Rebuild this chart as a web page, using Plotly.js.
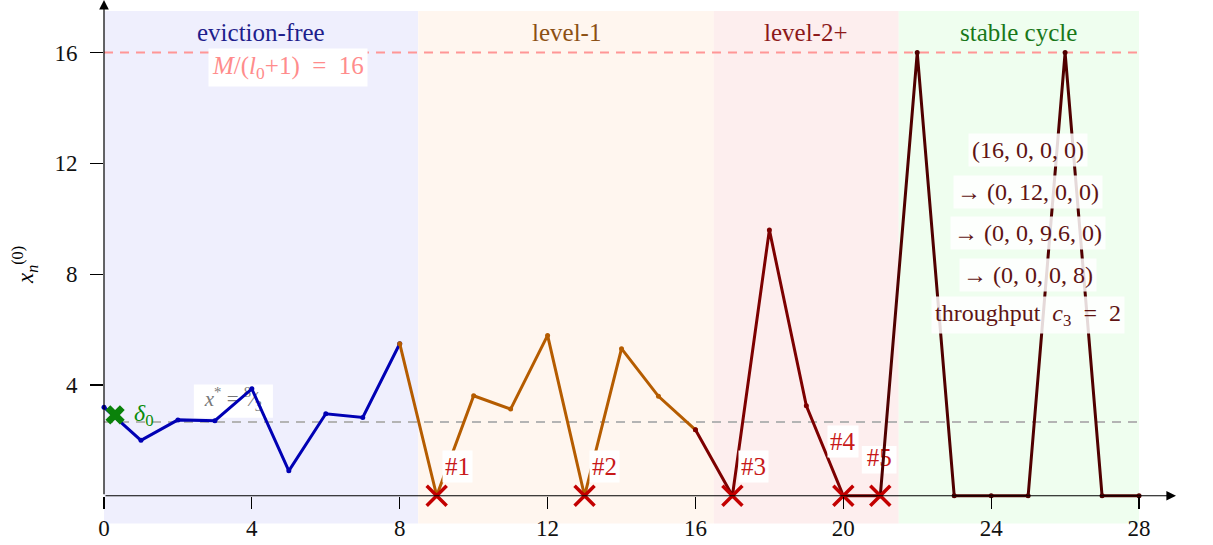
<!DOCTYPE html>
<html>
<head>
<meta charset="utf-8">
<script src="https://cdn.plot.ly/plotly-3.0.1.min.js"></script>
<style>html,body{margin:0;padding:0;background:#fff;}#chart{width:1213px;height:545px;}</style>
</head>
<body>
<div id="chart"></div>
<script>
// ---- data ----
const nEvict = [0, 1, 2, 3, 4, 5, 6, 7, 8];
const xEvict = [3.2, 2.0, 2.74, 2.71, 3.86, 0.9, 2.96, 2.83, 5.49];
const nLevel1 = [8, 9, 10, 11, 12, 13, 14, 15, 16];
const xLevel1 = [5.49, 0, 3.61, 3.13, 5.79, 0, 5.31, 3.59, 2.38];
const nLevel2 = [16, 17, 18, 19, 20, 21];
const xLevel2 = [2.38, 0, 9.6, 3.25, 0, 0];
const nStable = [21, 22, 23, 24, 25, 26, 27, 28];
const xStable = [0, 16, 0, 0, 0, 16, 0, 0];
const evictN = [9, 13, 17, 20, 21];
const evictX = [0, 0, 0, 0, 0];
const evictLabels = ['#1', '#2', '#3', '#4', '#5'];
const evictLabelX = [9.55, 13.55, 17.56, 20.0, 20.97];
const evictLabelY = [1.05, 1.05, 1.05, 1.96, 1.3];
const phaseNames = ['eviction-free', 'level-1', 'level-2+', 'stable cycle'];
const phaseStart = [0, 8.5, 16.5, 21.5];
const phaseEnd = [8.5, 16.5, 21.5, 28];
const phaseFill = ['rgb(239,239,253)', 'rgb(255,246,239)', 'rgb(253,238,238)', 'rgb(239,254,239)'];
const phaseText = ['rgb(30,30,140)', 'rgb(140,80,20)', 'rgb(140,25,25)', 'rgb(25,120,25)'];
const capValue = 16;
const fixedPoint = 8 / 3;
const delta0 = {n: 0.3, x: 2.92};
const cycleLines = ['(16, 0, 0, 0)', '→ (0, 12, 0, 0)', '→ (0, 0, 9.6, 0)', '→ (0, 0, 0, 8)', 'throughput  <i>c</i><sub>3</sub>  =  2'];
const cycleY = [12.5, 10.98, 9.5, 7.98, 6.54];
const xTicks = [0, 4, 8, 12, 16, 20, 24, 28];
const yTicks = [4, 8, 12, 16];

// ---- layout constants ----
const FONT = 'Liberation Serif, DejaVu Serif, serif';
const XR = [0, 29];
const YR = [-1.2, 17.9];
const LABEL_RED = 'rgb(200,25,25)';

function lineTrace(nx, vy, color) {
  return {x: nx, y: vy, type: 'scatter', mode: 'lines+markers',
    line: {color: color, width: 3}, marker: {color: color, size: 5},
    cliponaxis: false, hoverinfo: 'skip', showlegend: false};
}
function textTrace(tx, ty, txt, size, color) {
  return {x: [tx], y: [ty], type: 'scatter', mode: 'text', text: [txt],
    textposition: 'middle center', textfont: {family: FONT, size: size, color: color},
    cliponaxis: false, hoverinfo: 'skip', showlegend: false};
}

// labels that sit underneath the lines in the reference
const xStarPos = {n: 3.5, x: 3.42};
const lastIdx = evictLabels.length - 1;

const traces = [
  textTrace(xStarPos.n, xStarPos.x, '<i>x</i><sup>*</sup> = <sup>8</sup>⁄<sub>3</sub>', 21, 'rgb(120,120,120)'),
  lineTrace(nEvict, xEvict, 'rgb(0,0,180)'),
  lineTrace(nLevel1, xLevel1, 'rgb(181,92,0)'),
  lineTrace(nLevel2, xLevel2, 'rgb(125,0,0)'),
  textTrace(evictLabelX[lastIdx], evictLabelY[lastIdx], evictLabels[lastIdx], 25, LABEL_RED),
  lineTrace(nStable, xStable, 'rgb(80,0,0)'),
  {x: evictN, y: evictX, type: 'scatter', mode: 'markers',
   marker: {symbol: 'x-thin', size: 20, line: {color: 'rgb(195,0,0)', width: 3.5}},
   cliponaxis: false, hoverinfo: 'skip', showlegend: false},
  {x: [delta0.n], y: [delta0.x], type: 'scatter', mode: 'markers',
   marker: {symbol: 'x', size: 17, color: 'rgb(10,130,10)', line: {width: 0}},
   cliponaxis: false, hoverinfo: 'skip', showlegend: false}
];

const shapes = [];
for (let i = 0; i < phaseNames.length; i++) {
  shapes.push({type: 'rect', xref: 'x', yref: 'y', x0: phaseStart[i], x1: phaseEnd[i], y0: -1.0, y1: 17.5,
    fillcolor: phaseFill[i], line: {width: 0}, layer: 'below'});
}
shapes.push({type: 'line', xref: 'x', yref: 'y', x0: 0, x1: 28, y0: capValue, y1: capValue,
  line: {color: 'rgb(255,150,150)', width: 2, dash: '9px,7px'}, layer: 'below'});
shapes.push({type: 'line', xref: 'x', yref: 'y', x0: 0, x1: 28, y0: fixedPoint, y1: fixedPoint,
  line: {color: 'rgb(180,180,180)', width: 2, dash: '9px,7px'}, layer: 'below'});
// white label boxes beneath the lines
shapes.push({type: 'rect', xref: 'x', yref: 'y', x0: xStarPos.n - 1.07, x1: xStarPos.n + 1.07,
  y0: xStarPos.x - 0.6, y1: xStarPos.x + 0.6, fillcolor: '#fff', line: {width: 0}, layer: 'below'});
shapes.push({type: 'rect', xref: 'x', yref: 'y', x0: evictLabelX[lastIdx] - 0.47, x1: evictLabelX[lastIdx] + 0.47,
  y0: evictLabelY[lastIdx] - 0.5, y1: evictLabelY[lastIdx] + 0.5, fillcolor: '#fff', line: {width: 0}, layer: 'below'});

const annotations = [];
// axes with arrow heads
annotations.push({x: XR[1], y: 0, ax: 0, ay: 0, xref: 'x', yref: 'y', axref: 'x', ayref: 'y',
  showarrow: true, arrowhead: 2, arrowsize: 1.6, arrowwidth: 1.2, arrowcolor: '#000', text: ''});
annotations.push({x: 0, y: YR[1], ax: 0, ay: 0, xref: 'x', yref: 'y', axref: 'x', ayref: 'y',
  showarrow: true, arrowhead: 2, arrowsize: 1.6, arrowwidth: 1.2, arrowcolor: '#000', text: ''});
annotations.push({x: 29.45, y: 0.08, xref: 'x', yref: 'y', text: '<i>n</i>', showarrow: false,
  font: {family: FONT, size: 24, color: '#000'}, xanchor: 'center', yanchor: 'middle'});
for (let i = 0; i < phaseNames.length; i++) {
  annotations.push({x: (phaseStart[i] + phaseEnd[i]) / 2, y: 16.72, xref: 'x', yref: 'y', text: phaseNames[i],
    showarrow: false, font: {family: FONT, size: 25, color: phaseText[i]}});
}
annotations.push({x: 4.99, y: 15.45, xref: 'x', yref: 'y', showarrow: false,
  text: '<i>M</i>/(<i>l</i><sub>0</sub>+1)  =  16', bgcolor: '#fff', borderpad: 3,
  font: {family: FONT, size: 25, color: 'rgb(255,140,140)'}});
annotations.push({x: 1.07, y: 2.92, xref: 'x', yref: 'y', showarrow: false,
  text: '<i>δ</i><sub>0</sub>', font: {family: FONT, size: 24, color: 'rgb(10,140,10)'}});
for (let i = 0; i < lastIdx; i++) {
  annotations.push({x: evictLabelX[i], y: evictLabelY[i], xref: 'x', yref: 'y', showarrow: false,
    text: evictLabels[i], bgcolor: '#fff', borderpad: 2,
    font: {family: FONT, size: 25, color: LABEL_RED}});
}
for (let i = 0; i < cycleLines.length; i++) {
  annotations.push({x: 25.0, y: cycleY[i], xref: 'x', yref: 'y', showarrow: false,
    text: cycleLines[i], bgcolor: 'rgba(255,255,255,0.85)', borderpad: 3,
    font: {family: FONT, size: 24, color: 'rgb(95,20,20)'}});
}

const M = {l: 104, r: 37, t: 0, b: 545 - Math.round((YR[1] - YR[0]) * 27.69)};

const layout = {
  width: 1213, height: 545, margin: M,
  paper_bgcolor: '#fff', plot_bgcolor: 'rgba(0,0,0,0)',
  font: {family: FONT, color: '#000'},
  xaxis: {range: XR, anchor: 'free', position: (0 - YR[0]) / (YR[1] - YR[0]),
    tickvals: xTicks, ticktext: xTicks.map(String), ticks: 'outside', ticklen: 12, tickwidth: 1.2, tickcolor: '#000',
    showgrid: false, zeroline: false, showline: false,
    tickfont: {family: FONT, size: 23, color: '#111'}},
  yaxis: {range: YR, tickvals: yTicks, ticktext: yTicks.map(String), ticks: 'outside', ticklen: 13, tickwidth: 1.2,
    tickcolor: '#000', showgrid: false, zeroline: false, showline: false, ticklabelstandoff: 8,
    tickfont: {family: FONT, size: 23, color: '#111'},
    title: {text: '<i>x</i><sub><i>n</i></sub><sup>(0)</sup>', standoff: 14, font: {family: FONT, size: 23, color: '#000'}}},
  shapes: shapes, annotations: annotations, showlegend: false
};

Plotly.newPlot('chart', traces, layout, {staticPlot: true, displayModeBar: false});
</script>
</body>
</html>
